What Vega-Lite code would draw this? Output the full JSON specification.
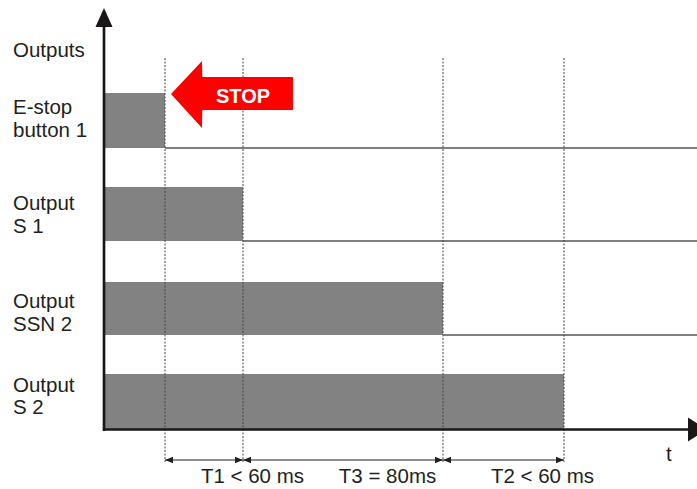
{
  "$schema": "https://vega.github.io/schema/vega-lite/v6.json",
  "width": 697,
  "height": 489,
  "autosize": {"type": "none"},
  "padding": 0,
  "background": "white",
  "config": {"view": {"stroke": null}},
  "datasets": {
    "bars": [
      {"signal": "E-stop button 1", "x": 0, "x2": 61, "y": 337, "y2": 282},
      {"signal": "Output S 1", "x": 0, "x2": 139, "y": 243, "y2": 189},
      {"signal": "Output SSN 2", "x": 0, "x2": 339, "y": 148, "y2": 95},
      {"signal": "Output S 2", "x": 0, "x2": 460, "y": 56, "y2": 0}
    ],
    "levels": [
      {"x": 61, "x2": 593, "y": 282},
      {"x": 139, "x2": 593, "y": 189},
      {"x": 339, "x2": 593, "y": 95}
    ],
    "dashes": [
      {"x": 61, "y": 372, "y2": -32},
      {"x": 139, "y": 372, "y2": -32},
      {"x": 339, "y": 372, "y2": -32},
      {"x": 460, "y": 372, "y2": -32}
    ],
    "dims": [
      {"x": 61, "x2": 139, "y": -30},
      {"x": 139, "x2": 339, "y": -30},
      {"x": 339, "x2": 460, "y": -30}
    ],
    "dimheads": [
      {"x": 61, "y": -30, "dir": "L"},
      {"x": 139, "y": -30, "dir": "L"},
      {"x": 339, "y": -30, "dir": "L"},
      {"x": 139, "y": -30, "dir": "R"},
      {"x": 339, "y": -30, "dir": "R"},
      {"x": 460, "y": -30, "dir": "R"}
    ],
    "dimlabels": [
      {"x": 148.5, "y": -53, "text": "T1 < 60 ms"},
      {"x": 283.5, "y": -53, "text": "T3 = 80ms"},
      {"x": 438.5, "y": -53, "text": "T2 < 60 ms"}
    ],
    "axes": [
      {"x": 0, "x2": 0, "y": -1, "y2": 410},
      {"x": 0, "x2": 588, "y": 0.5, "y2": 0.5}
    ],
    "axisheads": [
      {"x": 0, "y": 412.5, "dir": "up"},
      {"x": 593.6, "y": 0.5, "dir": "right"}
    ],
    "stop": [
      {"x": 67, "y": 336, "y2": 336},
      {"x": 98, "y": 369, "y2": 302},
      {"x": 98.3, "y": 353, "y2": 320},
      {"x": 189, "y": 353, "y2": 320}
    ],
    "stoptext": [{"x": 139, "y": 327, "text": "STOP"}],
    "labels": [
      {"x": -91, "y": 373, "text": "Outputs"},
      {"x": -91, "y": 316, "text": "E-stop"},
      {"x": -91, "y": 293, "text": "button 1"},
      {"x": -91, "y": 220.5, "text": "Output"},
      {"x": -91, "y": 197.5, "text": "S 1"},
      {"x": -91, "y": 122, "text": "Output"},
      {"x": -91, "y": 99, "text": "SSN 2"},
      {"x": -91, "y": 38.5, "text": "Output"},
      {"x": -91, "y": 16, "text": "S 2"},
      {"x": 562, "y": -31, "text": "t"}
    ]
  },
  "layer": [
    {
      "data": {"name": "bars"},
      "mark": {"type": "rect", "color": "#828282"},
      "encoding": {
        "x": {"field": "x", "type": "quantitative", "scale": {"domain": [-104, 593], "nice": false, "zero": false}, "axis": null},
        "x2": {"field": "x2"},
        "y": {"field": "y", "type": "quantitative", "scale": {"domain": [-59, 430], "nice": false, "zero": false}, "axis": null},
        "y2": {"field": "y2"}
      }
    },
    {
      "data": {"name": "levels"},
      "mark": {"type": "rule", "color": "#555555", "strokeWidth": 1.3},
      "encoding": {
        "x": {"field": "x", "type": "quantitative", "axis": null},
        "x2": {"field": "x2"},
        "y": {"field": "y", "type": "quantitative", "axis": null}
      }
    },
    {
      "data": {"name": "dashes"},
      "mark": {"type": "rule", "color": "#444444", "strokeWidth": 1, "strokeDash": [2, 1.5]},
      "encoding": {
        "x": {"field": "x", "type": "quantitative", "axis": null},
        "y": {"field": "y", "type": "quantitative", "axis": null},
        "y2": {"field": "y2"}
      }
    },
    {
      "data": {"name": "dims"},
      "mark": {"type": "rule", "color": "#231f20", "strokeWidth": 1},
      "encoding": {
        "x": {"field": "x", "type": "quantitative", "axis": null},
        "x2": {"field": "x2"},
        "y": {"field": "y", "type": "quantitative", "axis": null}
      }
    },
    {
      "data": {"name": "dimheads"},
      "transform": [{"filter": "datum.dir === 'L'"}],
      "mark": {"type": "point", "shape": "M0,0L1,-0.42L1,0.42Z", "size": 256, "filled": true, "color": "#231f20", "opacity": 1, "strokeWidth": 0},
      "encoding": {
        "x": {"field": "x", "type": "quantitative", "axis": null},
        "y": {"field": "y", "type": "quantitative", "axis": null}
      }
    },
    {
      "data": {"name": "dimheads"},
      "transform": [{"filter": "datum.dir === 'R'"}],
      "mark": {"type": "point", "shape": "M0,0L-1,-0.42L-1,0.42Z", "size": 256, "filled": true, "color": "#231f20", "opacity": 1, "strokeWidth": 0},
      "encoding": {
        "x": {"field": "x", "type": "quantitative", "axis": null},
        "y": {"field": "y", "type": "quantitative", "axis": null}
      }
    },
    {
      "data": {"name": "axes"},
      "mark": {"type": "rule", "color": "#1a1718", "strokeWidth": 2.7},
      "encoding": {
        "x": {"field": "x", "type": "quantitative", "axis": null},
        "x2": {"field": "x2"},
        "y": {"field": "y", "type": "quantitative", "axis": null},
        "y2": {"field": "y2"}
      }
    },
    {
      "data": {"name": "axisheads"},
      "transform": [{"filter": "datum.dir === 'up'"}],
      "mark": {"type": "point", "shape": "M0,-0.79L0.71,0.79L-0.71,0.79Z", "size": 576, "filled": true, "color": "#1a1718", "opacity": 1, "strokeWidth": 0},
      "encoding": {
        "x": {"field": "x", "type": "quantitative", "axis": null},
        "y": {"field": "y", "type": "quantitative", "axis": null}
      }
    },
    {
      "data": {"name": "axisheads"},
      "transform": [{"filter": "datum.dir === 'right'"}],
      "mark": {"type": "point", "shape": "M0.8,0L-0.8,-1L-0.8,1Z", "size": 576, "filled": true, "color": "#1a1718", "opacity": 1, "strokeWidth": 0},
      "encoding": {
        "x": {"field": "x", "type": "quantitative", "axis": null},
        "y": {"field": "y", "type": "quantitative", "axis": null}
      }
    },
    {
      "data": {"name": "stop"},
      "mark": {"type": "area", "color": "#ff0000", "opacity": 1},
      "encoding": {
        "x": {"field": "x", "type": "quantitative", "axis": null},
        "y": {"field": "y", "type": "quantitative", "axis": null},
        "y2": {"field": "y2"}
      }
    },
    {
      "data": {"name": "stoptext"},
      "mark": {"type": "text", "font": "Liberation Sans", "fontWeight": "bold", "fontSize": 20, "color": "white", "align": "center", "baseline": "alphabetic"},
      "encoding": {
        "x": {"field": "x", "type": "quantitative", "axis": null},
        "y": {"field": "y", "type": "quantitative", "axis": null},
        "text": {"field": "text"}
      }
    },
    {
      "data": {"name": "labels"},
      "mark": {"type": "text", "font": "Liberation Sans", "fontSize": 20.5, "color": "#231f20", "align": "left", "baseline": "alphabetic"},
      "encoding": {
        "x": {"field": "x", "type": "quantitative", "axis": null},
        "y": {"field": "y", "type": "quantitative", "axis": null},
        "text": {"field": "text"}
      }
    },
    {
      "data": {"name": "dimlabels"},
      "mark": {"type": "text", "font": "Liberation Sans", "fontSize": 20.5, "color": "#231f20", "align": "center", "baseline": "alphabetic"},
      "encoding": {
        "x": {"field": "x", "type": "quantitative", "axis": null},
        "y": {"field": "y", "type": "quantitative", "axis": null},
        "text": {"field": "text"}
      }
    }
  ]
}
